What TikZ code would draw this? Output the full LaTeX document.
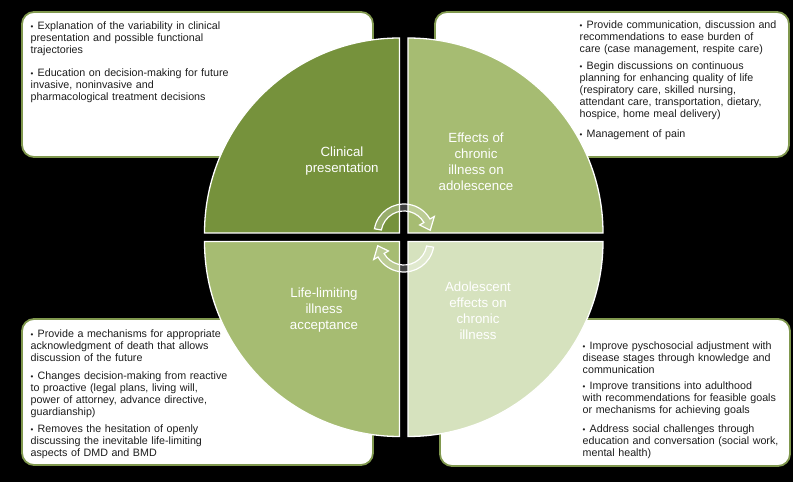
\documentclass[tikz,border=0pt]{standalone}
\usepackage{fontspec}
\setmainfont{Liberation Sans}
\usetikzlibrary{calc}

\definecolor{darkolive}{RGB}{118,146,60}
\definecolor{midolive}{RGB}{166,188,114}
\definecolor{paleolive}{RGB}{214,226,190}
\definecolor{boxedge}{RGB}{128,152,78}
\definecolor{bodytext}{RGB}{30,30,30}

\newcommand{\bul}[1]{\hangindent=7pt\hangafter=1\noindent\makebox[7pt][l]{\footnotesize\textbullet}#1}

\tikzset{
  notebox/.style={fill=white,draw=boxedge,line width=1.8pt,rounded corners=12pt},
  quad/.style={draw=white,line width=1.3pt},
  quadlabel/.style={text=white,align=center,font=\fontsize{13.3}{16}\selectfont},
  bullettext/.style={anchor=base west,inner sep=0pt,text width=250pt,align=left,
    text=bodytext,font=\fontsize{10.7}{12}\selectfont},
  cyclearrow/.style={draw=white,line width=1.2pt,fill=white,fill opacity=0.25}
}

\begin{document}
\begin{tikzpicture}[x=1pt,y=1pt]
    \fill[black] (0,0) rectangle (793,482);
    \useasboundingbox (0,0) rectangle (793,482);

    % note boxes behind the circle
    \draw[notebox] (22,325) rectangle (373,470);
    \draw[notebox] (435,325) rectangle (789,470);
    \draw[notebox] (22,17) rectangle (373,163);
    \draw[notebox] (440,16) rectangle (790,163);

    \node[bullettext] (clin1) at (30.5,452.8) {\bul{Explanation of the variability in clinical\\presentation and possible functional\\trajectories}};
    \node[bullettext] (clin2) at (30.5,405.8) {\bul{Education on decision-making for future\\invasive, noninvasive and\\pharmacological treatment decisions}};

    \node[bullettext] (eff1) at (579.5,453.1) {\bul{Provide communication, discussion and\\recommendations to ease burden of\\care (case management, respite care)}};
    \node[bullettext] (eff2) at (579.5,412.8) {\bul{Begin discussions on continuous\\planning for enhancing quality of life\\(respiratory care, skilled nursing,\\attendant care, transportation, dietary,\\hospice, home meal delivery)}};
    \node[bullettext] (eff3) at (579.5,344.8) {\bul{Management of pain}};

    \node[bullettext] (life1) at (30.5,144.5) {\bul{Provide a mechanisms for appropriate\\acknowledgment of death that allows\\discussion of the future}};
    \node[bullettext] (life2) at (30.5,102.1) {\bul{Changes decision-making from reactive\\to proactive (legal plans, living will,\\power of attorney, advance directive,\\guardianship)}};
    \node[bullettext] (life3) at (30.5,49.8) {\bul{Removes the hesitation of openly\\discussing the inevitable life-limiting\\aspects of DMD and BMD}};

    \node[bullettext] (adol1) at (582.5,132.1) {\bul{Improve pyschosocial adjustment with\\disease stages through knowledge and\\communication}};
    \node[bullettext] (adol2) at (582.5,92.1) {\bul{Improve transitions into adulthood\\with recommendations for feasible goals\\or mechanisms for achieving goals}};
    \node[bullettext] (adol3) at (582.5,49.8) {\bul{Address social challenges through\\education and conversation (social work,\\mental health)}};

    % the four quarters
    \filldraw[quad,fill=darkolive] (399.5,249) -- ++(-195,0) arc (180:90:195) -- cycle;
    \filldraw[quad,fill=midolive] (408,249) -- ++(0,195) arc (90:0:195) -- cycle;
    \filldraw[quad,fill=midolive] (399.5,240.5) -- ++(0,-195) arc (270:180:195) -- cycle;
    \filldraw[quad,fill=paleolive] (408,240.5) -- ++(195,0) arc (0:-90:195) -- cycle;

    \node[quadlabel] (clinical) at (342,321) {Clinical\\presentation};
    \node[quadlabel] (effects) at (476,320) {Effects of\\chronic\\illness on\\adolescence};
    \node[quadlabel] (lifelim) at (324,171.5) {Life-limiting\\illness\\acceptance};
    \node[quadlabel] (adolesc) at (478,171.5) {Adolescent\\effects on\\chronic\\illness};

    % turning arrows in the middle
    \coordinate (upc) at (404,248);
    \coordinate (loc) at (404,240);
    \filldraw[cyclearrow] ($(upc)+(170:30)$) arc (170:30:30) -- ($(upc)+(30:35)$)
      -- ($(upc)+(8:26.5)$) -- ($(upc)+(30:18)$) -- ($(upc)+(30:23)$) arc (30:170:23) -- cycle;
    \filldraw[cyclearrow] ($(loc)+(-10:30)$) arc (-10:-150:30) -- ($(loc)+(210:35)$)
      -- ($(loc)+(188:26.5)$) -- ($(loc)+(210:18)$) -- ($(loc)+(210:23)$) arc (-150:-10:23) -- cycle;
\end{tikzpicture}
\end{document}
